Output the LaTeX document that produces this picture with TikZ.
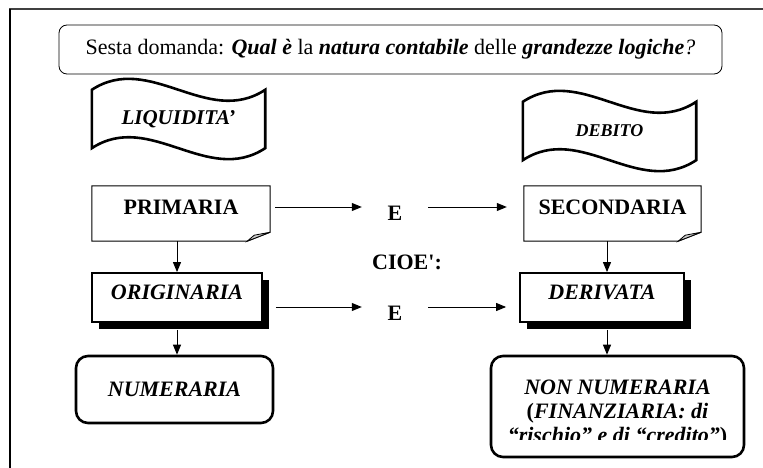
\documentclass[tikz,border=0pt]{standalone}
\usepackage{fontspec}
\setmainfont{Liberation Serif}
\usetikzlibrary{arrows.meta,shadows}

\begin{document}
\begin{tikzpicture}[x=1pt, y=-1pt,
        testo/.style={font=\fontsize{22}{24}\selectfont\bfseries},
        freccia/.style={-{Triangle[length=10pt,width=8pt]}, line width=1pt},
        foglio/.style={testo, minimum width=178pt, minimum height=55pt, text depth=13pt},
        ombra/.style={testo, draw, line width=1.8pt, fill=white, minimum height=49pt, text depth=11pt,
            drop shadow={shadow xshift=7pt, shadow yshift=-7pt, fill=black, opacity=1}},
        tondo/.style={testo, draw, line width=2.6pt, rounded corners=12pt, align=center},
        bandiera/.style={line width=2.6pt}]
    \useasboundingbox (0,0) rectangle (763,468);

    \draw[black!75, line width=2.2pt] (9,9) -- (763,9);
    \draw[line width=1.8pt] (10,9) -- (10,468);

    \node[draw, line width=0.8pt, rounded corners=8pt, minimum width=663pt, minimum height=49pt,
        font=\fontsize{22}{24}\selectfont] (domanda) at (390.5,49.5)
        {Sesta domanda: \textbf{\textit{Qual è}} la \textbf{\textit{natura contabile}} delle \textbf{\textit{grandezze logiche}}\textit{?}};

    \node[testo, font=\fontsize{21}{24}\selectfont\bfseries\itshape, minimum width=173pt, minimum height=58pt] (liq) at (178.5,119) {LIQUIDITA’};
    \draw[bandiera] (liq.north west) .. controls +(58,-38) and +(-58,38) .. (liq.north east)
        -- (liq.south east) .. controls +(-58,38) and +(58,-38) .. (liq.south west) -- cycle;
    \node[testo, font=\fontsize{18}{20}\selectfont\bfseries\itshape, minimum width=173pt, minimum height=58pt] (deb) at (609.5,131) {DEBITO};
    \draw[bandiera] (deb.north west) .. controls +(58,-38) and +(-58,38) .. (deb.north east)
        -- (deb.south east) .. controls +(-58,38) and +(58,-38) .. (deb.south west) -- cycle;

    \node[foglio] (prim) at (181,213.5) {PRIMARIA};
    \node[foglio, minimum width=177pt] (sec) at (612.5,213.5) {SECONDARIA};
    \foreach \f in {prim, sec} {
        \draw[line width=1pt] (\f.north west) -- (\f.north east) -- ([yshift=9pt]\f.south east)
            -- ([xshift=-23pt]\f.south east) -- (\f.south west) -- cycle;
        \filldraw[fill=black!20, line width=0.8pt] ([xshift=-23pt]\f.south east)
            -- ([xshift=-16pt,yshift=6pt]\f.south east) -- ([yshift=9pt]\f.south east) -- cycle;
    }

    \node[ombra, minimum width=170pt] (orig) at (177,297.5) {\itshape ORIGINARIA};
    \node[ombra, minimum width=164pt] (der) at (602,297.5) {\itshape DERIVATA};

    \node[tondo, minimum width=197pt, minimum height=67pt] (numer) at (174.5,389.5) {\itshape NUMERARIA};
    \node[tondo, minimum width=253pt, minimum height=101pt] (nonnum) at (617.5,406.5) {};
    \begin{scope}
        \clip (nonnum.north west) rectangle ([yshift=19pt]nonnum.south east);
        \node[testo, align=center] (nonnumtxt) at (617.5,414)
            {\textit{NON NUMERARIA}\\(\textit{FINANZIARIA: di}\\\textit{“rischio” e di “credito”})};
    \end{scope}

    \node[testo, minimum width=66pt] (eone) at (395,213.5) {E};
    \node[testo, minimum width=66pt] (etwo) at (395,313) {E};
    \node[testo] (cioe) at (407,262) {CIOE{\addfontfeature{Ligatures=TeXOff}'}:};

    \draw[freccia, shorten <=5pt] ([yshift=6.5pt]prim.east) -- ([yshift=6.5pt]eone.west);
    \draw[freccia, shorten >=17pt] ([yshift=6.5pt]eone.east) -- ([yshift=6.5pt]sec.west);
    \draw[freccia, shorten <=13pt] ([yshift=-9.5pt]orig.east) -- ([yshift=6pt]etwo.west);
    \draw[freccia, shorten >=13pt] ([yshift=6pt]etwo.east) -- ([yshift=-9.5pt]der.west);

    \draw[freccia] (prim.south -| orig.north) -- (orig.north);
    \draw[freccia] ([yshift=-7pt]orig.south) -- (numer.north -| orig.south);
    \draw[freccia] ([xshift=5pt]der.north |- sec.south) -- ([xshift=5pt]der.north);
    \draw[freccia] ([xshift=5pt,yshift=-7pt]der.south) -- ([xshift=5pt]der.south |- nonnum.north);
\end{tikzpicture}
\end{document}
